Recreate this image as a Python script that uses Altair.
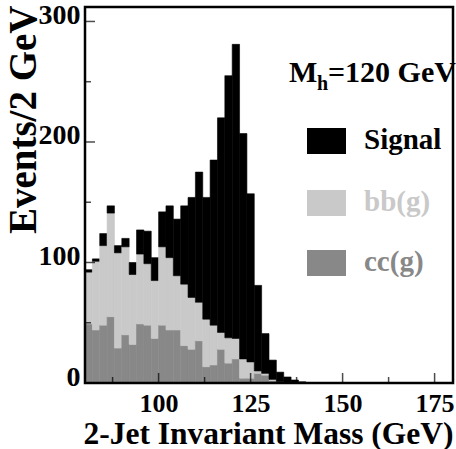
import altair as alt
import pandas as pd

# ---- data (2 GeV bins) ----
bin_start = [80, 82, 84, 86, 88, 90, 92, 94, 96, 98,
             100, 102, 104, 106, 108, 110, 112, 114, 116, 118,
             120, 122, 124, 126, 128, 130, 132, 134, 136, 138]
bin_width = 2
cc_g = [49, 44, 48, 55, 29, 40, 32, 49, 48, 37,
        48, 44, 44, 31, 28, 35, 13.5, 15, 28, 16.5,
        20, 4, 4, 8, 6.5, 2, 0.5, 0, 0, 0]
bb_g = [43, 57, 66, 86, 79, 73, 58, 58, 51, 48,
        65, 60, 45, 51, 43, 32, 39.5, 33, 14, 21,
        17, 16, 13.5, 2, 1.5, 1, 0.5, 0.5, 0, 0]
signal = [2, 2, 10, 6, 6, 7, 10, 20, 27, 19,
          29, 43, 47, 65, 83, 108, 101, 137, 178, 217.5,
          244, 187, 139.5, 71, 33, 16, 8, 4.5, 2.5, 1]

series_names = ["cc(g)", "bb(g)", "Signal"]          # bottom -> top
series_colors = ["#888888", "#c9c9c9", "#000000"]

x_domain = [80, 180]
y_domain = [0, 312]
x_major = [100, 125, 150, 175]
x_minor = [87.5, 112.5, 137.5, 162.5]
y_major = [0, 100, 200, 300]
y_minor = [50, 150, 250]

mass_label = ["M", "h", "=120 GeV"]
x_title = "2-Jet Invariant Mass (GeV)"
y_title = "Events/2 GeV"

FONT = "Liberation Serif"
W, H = 368, 376

rows = []
for i, lo in enumerate(bin_start):
    base = 0
    for name, vals in zip(series_names, [cc_g, bb_g, signal]):
        v = vals[i]
        rows.append(dict(lo=lo, hi=lo + bin_width, series=name, y0=base, y1=base + v))
        base += v
df = pd.DataFrame(rows)

xscale = alt.Scale(domain=x_domain, nice=False, zero=False)
yscale = alt.Scale(domain=y_domain, nice=False, zero=True)
cscale = alt.Scale(domain=series_names, range=series_colors)

xaxis = alt.Axis(values=x_major, ticks=False, domain=False, grid=False,
                 labelFont=FONT, labelFontWeight="bold", labelFontSize=26,
                 labelColor="black", labelPadding=7, labelFlush=False,
                 format="d",
                 title=x_title, titleFont=FONT, titleFontWeight="bold",
                 titleFontSize=31.5, titleColor="black",
                 titleAlign="right", titleAnchor="end",
                 titleX=W, titleY=60, titleBaseline="alphabetic")
yaxis = alt.Axis(values=y_major, ticks=False, domain=False, grid=False,
                 labelFont=FONT, labelFontWeight="bold", labelFontSize=28,
                 labelColor="black", labelPadding=5, labelFlush=False,
                 labelOffset=-6, format="d",
                 title=y_title, titleFont=FONT, titleFontWeight="bold",
                 titleFontSize=39, titleColor="black",
                 titleAngle=270, titleAlign="right", titleBaseline="middle",
                 titleX=-62, titleY=-2)

bars = alt.Chart(df).mark_rect(strokeWidth=0.6).encode(
    x=alt.X("lo:Q", scale=xscale, axis=xaxis),
    x2="hi:Q",
    y=alt.Y("y0:Q", scale=yscale, axis=yaxis),
    y2="y1:Q",
    color=alt.Color("series:N", scale=cscale, legend=None),
    stroke=alt.Stroke("series:N", scale=cscale, legend=None),
)

# frame through the scales (domain corners)
frame_df = pd.DataFrame({"lo": [x_domain[0]], "hi": [x_domain[1]],
                         "y0": [y_domain[0]], "y1": [y_domain[1]]})
frame = alt.Chart(frame_df).mark_rect(color="black", filled=False, strokeWidth=2.5).encode(
    x=alt.X("lo:Q", scale=xscale, axis=xaxis), x2="hi:Q",
    y=alt.Y("y0:Q", scale=yscale, axis=yaxis), y2="y1:Q")

# inward ticks
def xticks(vals, length):
    return alt.Chart(pd.DataFrame({"lo": vals})).mark_tick(
        color="black", thickness=1.5, size=length, orient="vertical",
        yOffset=-length / 2).encode(
        x=alt.X("lo:Q", scale=xscale, axis=xaxis), y=alt.value(H))

def yticks(vals, length):
    return alt.Chart(pd.DataFrame({"y0": vals})).mark_tick(
        color="black", thickness=1.5, size=length, orient="horizontal",
        xOffset=length / 2).encode(
        y=alt.Y("y0:Q", scale=yscale, axis=yaxis), x=alt.value(0))

layers = [bars, frame, xticks(x_major, 10), xticks(x_minor, 6),
          yticks(y_major, 10), yticks(y_minor, 6)]

# legend (manual, with coloured labels)
legend_y = {"Signal": 121, "bb(g)": 183, "cc(g)": 243}
for name, color in zip(series_names, series_colors):
    ld = pd.DataFrame({"label": [name]})
    top = legend_y[name]
    layers.append(alt.Chart(ld).mark_rect(color=color).encode(
        x=alt.value(222), x2=alt.value(261), y=alt.value(top), y2=alt.value(top + 26)))
    layers.append(alt.Chart(ld).mark_text(
        font=FONT, fontWeight="bold", fontSize=29, color=color,
        align="left", baseline="alphabetic").encode(
        x=alt.value(279), y=alt.value(top + 21), text="label:N"))

# M_h = 120 GeV
md = pd.DataFrame({"t": mass_label})
layers.append(alt.Chart(md.iloc[[0]]).mark_text(
    font=FONT, fontWeight="bold", fontSize=30, color="black", align="left",
    baseline="alphabetic").encode(x=alt.value(204), y=alt.value(75), text="t:N"))
layers.append(alt.Chart(md.iloc[[1]]).mark_text(
    font=FONT, fontWeight="bold", fontSize=20, color="black", align="left",
    baseline="alphabetic").encode(x=alt.value(232), y=alt.value(83), text="t:N"))
layers.append(alt.Chart(md.iloc[[2]]).mark_text(
    font=FONT, fontWeight="bold", fontSize=30, color="black", align="left",
    baseline="alphabetic").encode(x=alt.value(243), y=alt.value(75), text="t:N"))

chart = alt.layer(*layers).properties(
    width=W, height=H,
    autosize=alt.AutoSizeParams(type="none"),
    padding={"left": 85, "top": 7, "right": 3, "bottom": 66},
    background="white",
).configure_view(stroke=None)

chart.save("out.html", embed_options={"renderer": "svg", "actions": False})
